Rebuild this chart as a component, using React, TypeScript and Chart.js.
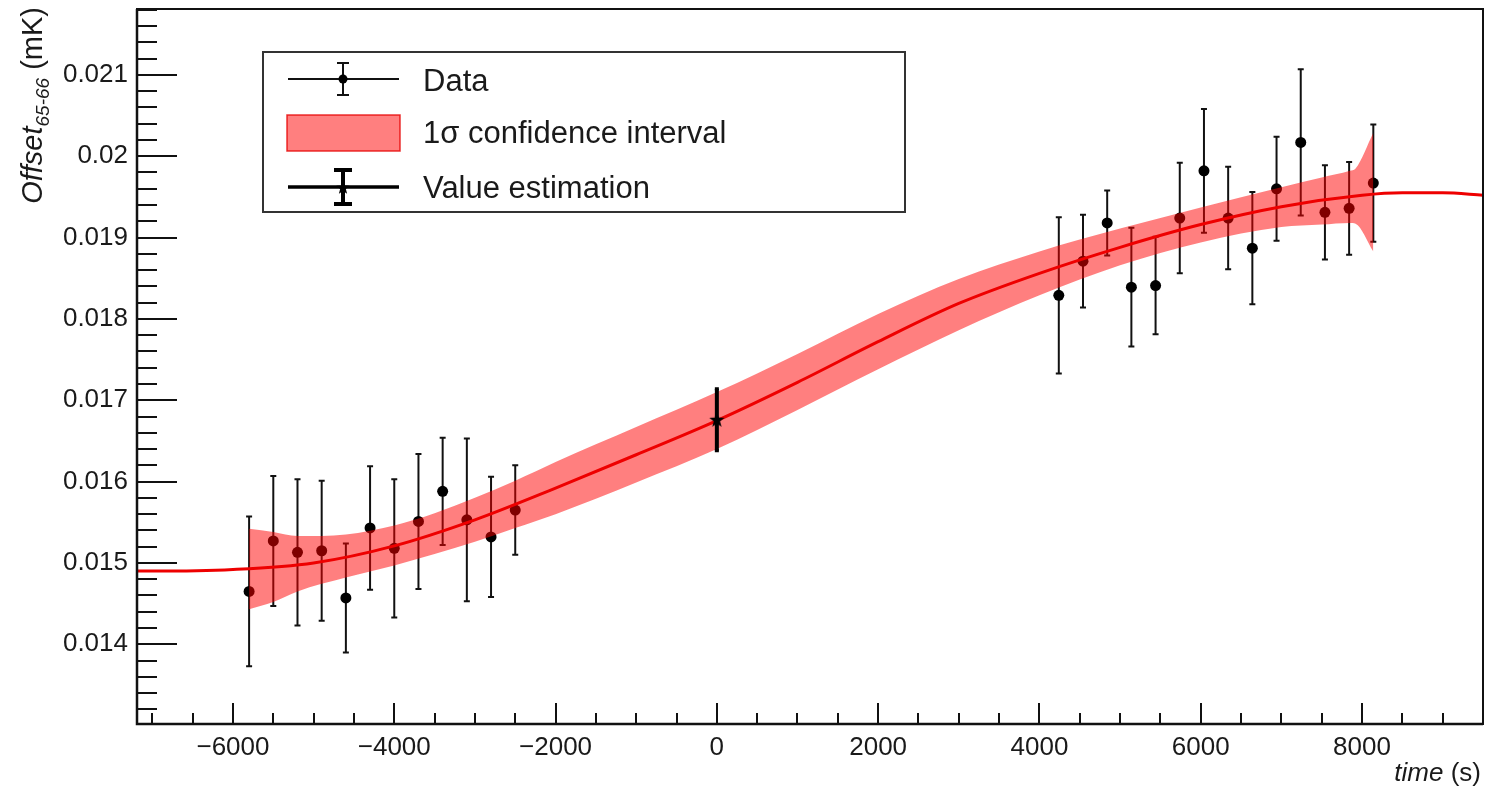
import React, { useEffect, useRef } from "react";
import { Chart, registerables } from "chart.js";

Chart.register(...registerables);

// ---- Data ----
const dataX = [-5800, -5500, -5200, -4900, -4600, -4300, -4000, -3700, -3400, -3100, -2800, -2500,
  4240, 4540, 4840, 5140, 5440, 5740, 6040, 6340, 6640, 6940, 7240, 7540, 7840, 8140];
const dataY = [0.01465, 0.01527, 0.01513, 0.01515, 0.01457, 0.01543, 0.01518, 0.01551, 0.01588, 0.01553, 0.01532, 0.01565,
  0.01829, 0.01871, 0.01918, 0.01839, 0.01841, 0.01924, 0.01982, 0.01924, 0.01887, 0.01960, 0.02017, 0.01931, 0.01936, 0.01967];
const dataErr = [0.00092, 0.00080, 0.00090, 0.00086, 0.00067, 0.00076, 0.00085, 0.00083, 0.00066, 0.00100, 0.00074, 0.00055,
  0.00096, 0.00057, 0.00040, 0.00073, 0.00060, 0.00068, 0.00076, 0.00063, 0.00069, 0.00064, 0.00090, 0.00058, 0.00057, 0.00072];

const estX = [0];
const estY = [0.01676];
const estErr = [0.00038];

const fitX = [-7190, -7000, -6000, -5000, -4000, -3000, -2000, -1000, 0, 1000, 2000, 3000, 4000, 5000, 6000, 7000, 8000, 8500, 9000, 9500];
const fitY = [0.01490, 0.01490, 0.01492, 0.01500, 0.01521, 0.01553, 0.01592, 0.01633, 0.01675, 0.01722, 0.01772, 0.01819, 0.01856, 0.01888, 0.01916, 0.01938, 0.01952, 0.01955, 0.01955, 0.01952];

const bandX = [-5800, -5500, -5200, -4600, -4000, -3500, -3000, -2500, -2000, -1000, 0, 1000, 2000, 3000, 4000, 5000, 6000, 7000, 7500, 7850, 7920, 8140];
const bandUpper = [0.01542, 0.01538, 0.01533, 0.01535, 0.01546, 0.01561, 0.01580, 0.01601, 0.01624, 0.01667, 0.01710, 0.01757, 0.01806, 0.01849, 0.01883, 0.01911, 0.01937, 0.01962, 0.01974, 0.01982, 0.01985, 0.02029];
const bandLower = [0.01443, 0.01452, 0.01465, 0.01482, 0.01497, 0.01511, 0.01526, 0.01543, 0.01560, 0.01599, 0.01640, 0.01688, 0.01738, 0.01786, 0.01829, 0.01866, 0.01894, 0.01913, 0.01916, 0.01918, 0.01917, 0.01883];

const xMin = -7190;
const xMax = 9500;
const yMin = 0.01302;
const yMax = 0.02181;

const xTickValues = [-6000, -4000, -2000, 0, 2000, 4000, 6000, 8000];
const xTickLabels = ["\u22126000", "\u22124000", "\u22122000", "0", "2000", "4000", "6000", "8000"];
const yTickValues = [0.014, 0.015, 0.016, 0.017, 0.018, 0.019, 0.02, 0.021];
const yTickLabels = ["0.014", "0.015", "0.016", "0.017", "0.018", "0.019", "0.02", "0.021"];

const legendLabels = ["Data", "1\u03c3 confidence interval", "Value estimation"];
const xTitleParts = ["time", " (s)"];
const yTitleParts = ["Offset", "65-66", " (mK)"];

const FONT = '"Liberation Sans", Arial, Helvetica, sans-serif';
const TEXT = "#1a1a1a";
const BAND = "rgba(255,0,0,0.5)";
const RED = "#ee0000";

function drawStar(ctx: CanvasRenderingContext2D, cx: number, cy: number, R: number, r: number) {
  ctx.beginPath();
  for (let i = 0; i < 10; i++) {
    const a = -Math.PI / 2 + (i * Math.PI) / 5;
    const rad = i % 2 === 0 ? R : r;
    const px = cx + rad * Math.cos(a);
    const py = cy + rad * Math.sin(a);
    if (i === 0) ctx.moveTo(px, py);
    else ctx.lineTo(px, py);
  }
  ctx.closePath();
  ctx.fill();
}

function makeStarCanvas() {
  const c = document.createElement("canvas");
  c.width = 18;
  c.height = 18;
  const g = c.getContext("2d")!;
  g.fillStyle = "#000";
  drawStar(g, 9, 9.5, 8, 3.3);
  return c;
}

function errBar(ctx: CanvasRenderingContext2D, x: number, y1: number, y2: number, lw: number, cap: number, capLw: number) {
  ctx.lineWidth = lw;
  ctx.beginPath();
  ctx.moveTo(x, y1);
  ctx.lineTo(x, y2);
  ctx.stroke();
  ctx.lineWidth = capLw;
  ctx.beginPath();
  ctx.moveTo(x - cap / 2, y1);
  ctx.lineTo(x + cap / 2, y1);
  ctx.moveTo(x - cap / 2, y2);
  ctx.lineTo(x + cap / 2, y2);
  ctx.stroke();
}

const decorPlugin = {
  id: "rootDecor",
  beforeDatasetsDraw(chart: any) {
    const ctx = chart.ctx as CanvasRenderingContext2D;
    const xs = chart.scales.x;
    const ys = chart.scales.y;
    ctx.save();
    ctx.strokeStyle = "#111";
    for (let i = 0; i < dataX.length; i++) {
      const px = xs.getPixelForValue(dataX[i]);
      const y1 = ys.getPixelForValue(dataY[i] + dataErr[i]);
      const y2 = ys.getPixelForValue(dataY[i] - dataErr[i]);
      errBar(ctx, px, y1, y2, 2, 6, 2);
    }
    ctx.restore();
  },
  afterDatasetDraw(chart: any, args: any) {
    if (args.index !== 3) return;
    const ctx = chart.ctx as CanvasRenderingContext2D;
    const xs = chart.scales.x;
    const ys = chart.scales.y;
    ctx.save();
    ctx.strokeStyle = "#000";
    for (let i = 0; i < estX.length; i++) {
      const px = xs.getPixelForValue(estX[i]);
      const y1 = ys.getPixelForValue(estY[i] + estErr[i]);
      const y2 = ys.getPixelForValue(estY[i] - estErr[i]);
      errBar(ctx, px, y1, y2, 4, 4, 3);
    }
    ctx.restore();
  },
  afterDraw(chart: any) {
    const ctx = chart.ctx as CanvasRenderingContext2D;
    const { left, right, top, bottom } = chart.chartArea;
    const xs = chart.scales.x;
    const ys = chart.scales.y;
    ctx.save();
    // frame
    ctx.strokeStyle = "#111";
    ctx.lineWidth = 2;
    ctx.strokeRect(left, top, right - left, bottom - top);
    ctx.lineWidth = 2.5;
    ctx.beginPath();
    ctx.moveTo(left, top);
    ctx.lineTo(left, bottom);
    ctx.lineTo(right, bottom);
    ctx.stroke();
    // y ticks (inward)
    ctx.lineWidth = 2;
    ctx.beginPath();
    for (let k = 0; k <= 60; k++) {
      const v = 0.0130 + k * 0.0002;
      if (v < yMin || v > yMax) continue;
      const py = Math.round(ys.getPixelForValue(v));
      const major = k % 5 === 0;
      ctx.moveTo(left, py);
      ctx.lineTo(left + (major ? 40 : 20), py);
    }
    ctx.stroke();
    // x ticks (inward)
    ctx.beginPath();
    for (let k = 0; k <= 40; k++) {
      const v = -7000 + k * 500;
      if (v < xMin || v > xMax) continue;
      const px = Math.round(xs.getPixelForValue(v));
      const major = v % 2000 === 0;
      ctx.moveTo(px, bottom);
      ctx.lineTo(px, bottom - (major ? 21 : 11));
    }
    ctx.stroke();

    // axis titles
    ctx.fillStyle = TEXT;
    ctx.textBaseline = "alphabetic";
    ctx.textAlign = "left";
    const fItal = `italic 26px ${FONT}`;
    const fNorm = `26px ${FONT}`;
    ctx.font = fNorm;
    const wS = ctx.measureText(xTitleParts[1]).width;
    ctx.font = fItal;
    const wT = ctx.measureText(xTitleParts[0]).width;
    const xr = right - 2;
    ctx.fillText(xTitleParts[0], xr - wS - wT, 781);
    ctx.font = fNorm;
    ctx.fillText(xTitleParts[1], xr - wS, 781);

    // y title rotated
    ctx.save();
    ctx.translate(42, top - 2);
    ctx.rotate(-Math.PI / 2);
    const parts = [
      { t: yTitleParts[0], f: `italic 29px ${FONT}`, dy: 0 },
      { t: yTitleParts[1], f: `italic 19px ${FONT}`, dy: 7 },
      { t: yTitleParts[2], f: `29px ${FONT}`, dy: 0 },
    ];
    let W = 0;
    const widths: number[] = [];
    for (const p of parts) {
      ctx.font = p.f;
      const w = ctx.measureText(p.t).width;
      widths.push(w);
      W += w;
    }
    let u = -W;
    parts.forEach((p, i) => {
      ctx.font = p.f;
      ctx.fillText(p.t, u, p.dy);
      u += widths[i];
    });
    ctx.restore();

    // legend
    const lx = 263, ly = 52, lw = 642, lh = 160;
    ctx.fillStyle = "#fff";
    ctx.fillRect(lx, ly, lw, lh);
    ctx.strokeStyle = "#333";
    ctx.lineWidth = 2;
    ctx.strokeRect(lx, ly, lw, lh);
    const sx1 = 288, sx2 = 399, scx = 343;
    ctx.strokeStyle = "#111";
    ctx.lineWidth = 2;
    ctx.beginPath();
    ctx.moveTo(sx1, 79);
    ctx.lineTo(sx2, 79);
    ctx.stroke();
    errBar(ctx, scx, 63, 95, 2, 12, 2);
    ctx.fillStyle = "#000";
    ctx.beginPath();
    ctx.arc(scx, 79, 4.5, 0, Math.PI * 2);
    ctx.fill();
    ctx.fillStyle = BAND;
    ctx.fillRect(287, 115, 113, 36);
    ctx.strokeStyle = "rgba(230,0,0,0.8)";
    ctx.lineWidth = 1.5;
    ctx.strokeRect(287, 115, 113, 36);
    ctx.strokeStyle = "#000";
    ctx.lineWidth = 3.5;
    ctx.beginPath();
    ctx.moveTo(sx1, 187);
    ctx.lineTo(sx2, 187);
    ctx.stroke();
    errBar(ctx, scx, 170, 204, 4, 18, 4);
    ctx.fillStyle = "#000";
    drawStar(ctx, scx, 188, 7, 3);
    ctx.fillStyle = TEXT;
    ctx.font = `31px ${FONT}`;
    ctx.fillText(legendLabels[0], 423, 91);
    ctx.fillText(legendLabels[1], 423, 143);
    ctx.fillText(legendLabels[2], 423, 198);
    ctx.restore();
  },
};

export default function App() {
  const ref = useRef<HTMLCanvasElement | null>(null);
  useEffect(() => {
    document.body.style.margin = "0";
    const canvas = ref.current!;
    const star = makeStarCanvas();
    const chart = new Chart(canvas, {
      type: "scatter",
      data: {
        datasets: [
          {
            type: "scatter",
            label: legendLabels[0],
            data: dataX.map((x, i) => ({ x, y: dataY[i] })),
            pointRadius: 5.5,
            pointBackgroundColor: "#000",
            pointBorderWidth: 0,
            order: 5,
          } as any,
          {
            type: "line",
            label: "band-lower",
            data: bandX.map((x, i) => ({ x, y: bandLower[i] })),
            pointRadius: 0,
            borderWidth: 0,
            borderColor: "rgba(0,0,0,0)",
            showLine: true,
            fill: false,
            cubicInterpolationMode: "monotone",
            order: 4,
          } as any,
          {
            type: "line",
            label: legendLabels[1],
            data: bandX.map((x, i) => ({ x, y: bandUpper[i] })),
            pointRadius: 0,
            borderWidth: 0,
            borderColor: "rgba(0,0,0,0)",
            backgroundColor: BAND,
            showLine: true,
            fill: { target: 1 },
            cubicInterpolationMode: "monotone",
            order: 3,
          } as any,
          {
            type: "line",
            label: "fit",
            data: fitX.map((x, i) => ({ x, y: fitY[i] })),
            pointRadius: 0,
            borderWidth: 3,
            borderColor: RED,
            showLine: true,
            fill: false,
            cubicInterpolationMode: "monotone",
            order: 2,
          } as any,
          {
            type: "scatter",
            label: legendLabels[2],
            data: estX.map((x, i) => ({ x, y: estY[i] })),
            pointStyle: star,
            pointRadius: 8,
            order: 1,
          } as any,
        ],
      },
      options: {
        responsive: false,
        animation: false,
        devicePixelRatio: 1,
        layout: { autoPadding: false, padding: { left: 0, right: 4, top: 9, bottom: 0 } },
        plugins: {
          legend: { display: false },
          tooltip: { enabled: false },
        },
        scales: {
          x: {
            type: "linear",
            min: xMin,
            max: xMax,
            border: { display: false },
            grid: { display: false, drawTicks: false },
            ticks: {
              color: TEXT,
              font: { family: FONT, size: 26 },
              padding: 8,
              autoSkip: false,
              maxRotation: 0,
              callback: (_v: any, i: number) => xTickLabels[i],
            },
            afterBuildTicks: (s: any) => {
              s.ticks = xTickValues.map((v) => ({ value: v }));
            },
            afterFit: (s: any) => {
              s.height = 65;
              s.paddingLeft = 0;
              s.paddingRight = 0;
            },
          },
          y: {
            type: "linear",
            min: yMin,
            max: yMax,
            border: { display: false },
            grid: { display: false, drawTicks: false },
            ticks: {
              color: TEXT,
              font: { family: FONT, size: 26 },
              padding: 9,
              autoSkip: false,
              callback: (_v: any, i: number) => yTickLabels[i],
            },
            afterBuildTicks: (s: any) => {
              s.ticks = yTickValues.map((v) => ({ value: v }));
            },
            afterFit: (s: any) => {
              s.width = 137;
              s.paddingTop = 0;
              s.paddingBottom = 0;
            },
          },
        },
      } as any,
      plugins: [decorPlugin],
    });
    return () => chart.destroy();
  }, []);
  return (
    <div style={{ width: 1487, height: 789, background: "#fff" }}>
      <canvas ref={ref} width={1487} height={789} style={{ display: "block" }} />
    </div>
  );
}
